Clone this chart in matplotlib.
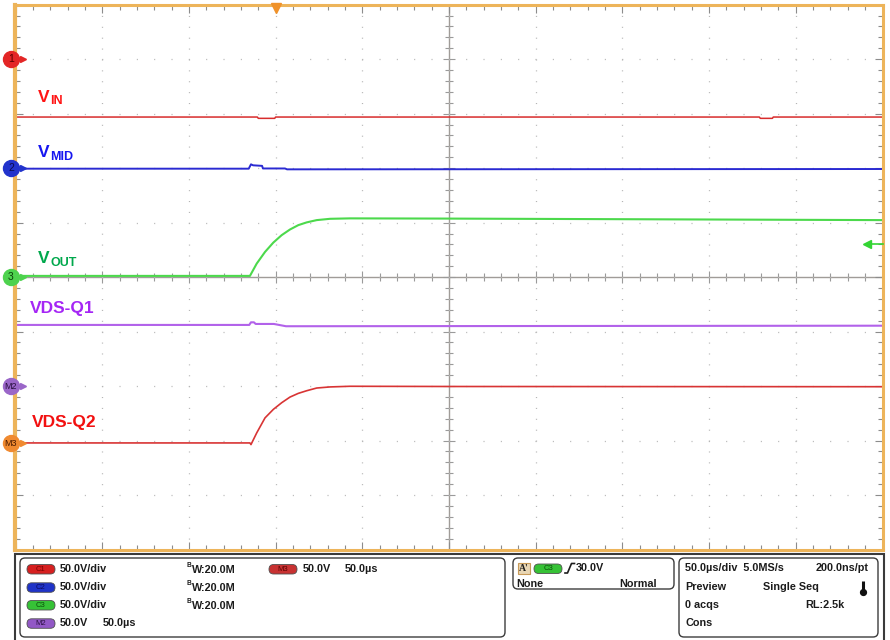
import numpy as np
import matplotlib
matplotlib.use("Agg")
import matplotlib.pyplot as plt
from matplotlib.ticker import MultipleLocator
from matplotlib.patches import FancyBboxPatch, Rectangle
from matplotlib.transforms import blended_transform_factory

plt.rcParams['font.family'] = ['Liberation Sans', 'DejaVu Sans']
plt.rcParams['lines.scale_dashes'] = False

# ---------------- data (time in µs, voltage in V) ----------------
VOLTS_PER_DIV = 50.0
US_PER_DIV = 50.0

vin_t = [-250, -110.5, -110, -100.5, -100, 179, 179.5, 186.5, 187, 250]
vin_v = [-53.1, -53.1, -54.3, -54.3, -53.1, -53.1, -54.3, -54.3, -53.1, -53.1]

vmid_t = [-250, -115.5, -114.2, -113.0, -107.8, -107.3, -94.6, -93.4, 250]
vmid_v = [-0.5, -0.5, 3.5, 2.6, 2.1, -0.3, -0.3, -1.1, -0.8]

vout_t = [-250, -114.8, -110.9, -106.1, -101.3, -96.5, -91.7, -86.9, -82.1, -76.3, -68.6, -57.1, 0, 250]
vout_v = [1.1, 1.1, 12.4, 23.1, 31.7, 38.5, 43.7, 47.7, 50.2, 52.3, 53.5, 53.9, 53.7, 52.3]

vdsq1_t = [-250, -115.2, -114.2, -112.5, -111.5, -101.0, -94.0, 250]
vdsq1_v = [56.1, 56.1, 58.5, 58.5, 57.0, 57.0, 54.9, 55.4]

vdsq2_t = [-250, -114.8, -114.2, -110.9, -106.1, -101.3, -96.5, -91.7, -86.9, -82.1, -76.3, -68.6, -57.1, 0, 250]
vdsq2_v = [0.3, 0.3, -1.2, 9.5, 23.3, 31.1, 37.2, 42.4, 45.8, 48.2, 50.7, 51.7, 52.3, 52.1, 51.9]

channel_names = ['1', '2', '3', 'M2', 'M3']
channel_offsets_div = [4.0, 2.0, 0.0, -2.0, -3.05]
trigger_time_us = -100.0
trigger_level_v = 30.0

trace_labels = ['IN', 'MID', 'OUT', 'VDS-Q1', 'VDS-Q2']

# ---------------- figure ----------------
W, H = 890, 640
fig = plt.figure(figsize=(W / 100, H / 100), dpi=100)
fig.patch.set_facecolor('white')
L, R, T, B = 15.5, 882.5, 4.7, 549.5
ax = fig.add_axes([L / W, 1 - B / H, (R - L) / W, (B - T) / H])
ax.set_xlim(-5 * US_PER_DIV, 5 * US_PER_DIV)
ax.set_ylim(-5, 5)
ax.set_facecolor('white')

ax.xaxis.set_major_locator(MultipleLocator(US_PER_DIV))
ax.xaxis.set_minor_locator(MultipleLocator(US_PER_DIV / 5))
ax.yaxis.set_major_locator(MultipleLocator(1))
ax.yaxis.set_minor_locator(MultipleLocator(0.2))
ax.tick_params(which='both', direction='in', top=True, right=True, bottom=True, left=True,
               labelbottom=False, labelleft=False, color='#8c8c8c', width=0.8)
ax.tick_params(which='major', length=6)
ax.tick_params(which='minor', length=3.5)

ax.xaxis.grid(True, which='major', color='#b4b4b4', linewidth=0.9, linestyle=(0, (0.75, 7.09)))
ax.yaxis.grid(True, which='major', color='#b4b4b4', linewidth=0.9, linestyle=(0, (0.75, 11.73)))

orange = '#EDB45A'
for name, sp in ax.spines.items():
    sp.set_color(orange)
    sp.set_linewidth(3.0 if name == 'left' else 2.2)
    sp.set_zorder(6)

# center crosshair
secx = ax.secondary_xaxis(0.5)
secx.xaxis.set_major_locator(MultipleLocator(US_PER_DIV))
secx.xaxis.set_minor_locator(MultipleLocator(US_PER_DIV / 5))
secx.tick_params(which='both', direction='inout', color='#9a9a9a', width=0.8,
                 labeltop=False, labelbottom=False)
secx.tick_params(which='major', length=9)
secx.tick_params(which='minor', length=6)
for sp in secx.spines.values():
    sp.set_color('#a09c98')
    sp.set_linewidth(1.0)
secy = ax.secondary_yaxis(0.5)
secy.yaxis.set_major_locator(MultipleLocator(1))
secy.yaxis.set_minor_locator(MultipleLocator(0.2))
secy.tick_params(which='both', direction='inout', color='#9a9a9a', width=0.8,
                 labelleft=False, labelright=False)
secy.tick_params(which='major', length=9)
secy.tick_params(which='minor', length=6)
for sp in secy.spines.values():
    sp.set_color('#a09c98')
    sp.set_linewidth(1.0)

# traces
traces = [
    (vin_t, vin_v, 0, '#d82c2c', 1.1),
    (vmid_t, vmid_v, 1, '#2a2ad2', 1.4),
    (vout_t, vout_v, 2, '#4cd94c', 1.5),
    (vdsq1_t, vdsq1_v, 3, '#b262ea', 1.5),
    (vdsq2_t, vdsq2_v, 4, '#d83434', 1.2),
]
for t, v, ci, col, lw in traces:
    ax.plot(t, channel_offsets_div[ci] + np.asarray(v) / VOLTS_PER_DIV,
            color=col, lw=lw, zorder=4, solid_joinstyle='round')

# channel ground markers
bt = blended_transform_factory(ax.transAxes, ax.transData)
mk_cols = ['#e32626', '#2233cc', '#4ed24e', '#9a66c8', '#f08a30']
mk_txt = ['#5a0000', '#0a0a50', '#0a400a', '#2a1040', '#4a1a00']
x_c = (11 - L) / (R - L)
x_a = (27 - L) / (R - L)
for name, off, fc, tc in zip(channel_names, channel_offsets_div, mk_cols, mk_txt):
    ax.plot([x_c, x_a - 0.004], [off, off], transform=bt, color=fc, lw=1.2, clip_on=False, zorder=7)
    ax.plot([x_a - 0.005], [off], transform=bt, marker='>', ms=5, color=fc, clip_on=False, zorder=7)
    ax.plot([x_c], [off], transform=bt, marker='o', ms=11.5, color=fc, mec=fc, clip_on=False, zorder=8)
    ax.text(x_c, off, name, transform=bt, ha='center', va='center',
            fontsize=7.5 if len(name) == 1 else 6.5,
            color=tc, zorder=9, clip_on=False)

# trigger position marker (top) and trigger level marker (right)
bt2 = blended_transform_factory(ax.transData, ax.transAxes)
ax.plot([trigger_time_us], [(B - 8) / (B - T)], transform=bt2, marker='v', ms=7,
        color='#f0922a', clip_on=False, zorder=9)
lvl = channel_offsets_div[2] + trigger_level_v / VOLTS_PER_DIV
x_tl = (867 - L) / (R - L)
ax.plot([x_tl, 1.0], [lvl, lvl], transform=bt, color='#33d433', lw=1.2, clip_on=False, zorder=7)
ax.plot([x_tl], [lvl], transform=bt, marker='<', ms=6, color='#33d433', clip_on=False, zorder=7)

# ---------------- overlay in pixel coordinates ----------------
ov = fig.add_axes([0, 0, 1, 1])
ov.set_xlim(0, W)
ov.set_ylim(H, 0)
ov.axis('off')
ov.patch.set_alpha(0)

# trace labels
lab_cols = ['#ff1414', '#1616f0', '#00a84c']
vy = [101.5, 157.3, 263.3]
for sub, col, yb in zip(trace_labels[:3], lab_cols, vy):
    ov.text(38, yb, 'V', color=col, fontsize=12.5, fontweight='bold', va='baseline', ha='left')
    ov.text(50.3, yb + 2.6, sub, color=col, fontsize=9, fontweight='bold', va='baseline', ha='left')
ov.text(30, 313, trace_labels[3], color='#a526f5', fontsize=12.5, fontweight='bold', va='baseline')
ov.text(31.7, 427, trace_labels[4], color='#f21010', fontsize=12.5, fontweight='bold', va='baseline')

# bottom status panel
ov.add_patch(Rectangle((15, 554), 869, 90, fc='white', ec='#3a3a3a', lw=1.5, zorder=1))
for (x0, y0, w, h) in [(20, 558, 485, 79), (513, 558, 161, 31), (679, 558, 199, 79)]:
    ov.add_patch(FancyBboxPatch((x0, y0), w, h, boxstyle='round,pad=0,rounding_size=5',
                                fc='white', ec='#3c3c3c', lw=1.0, zorder=2))

txt_kw = dict(fontsize=7.8, fontweight='bold', color='#1c1c1c', va='center', zorder=5)


def pill(x, y, label, fc, tc):
    ov.add_patch(FancyBboxPatch((x, y - 4.5), 28, 9.5, boxstyle='round,pad=0,rounding_size=4.7',
                                fc=fc, ec='#505050', lw=0.6, zorder=3))
    ov.text(x + 14, y + 0.3, label, ha='center', va='center', fontsize=5.5, color=tc, zorder=4)


rows = [569, 587.3, 605, 623.3]
pill(27, rows[0], 'C1', '#d62020', '#7a0000')
pill(27, rows[1], 'C2', '#1f33c8', '#0a0a60')
pill(27, rows[2], 'C3', '#36c236', '#0a500a')
pill(27, rows[3], 'M2', '#9258c6', '#2a1040')
pill(269, rows[0], 'M3', '#c83232', '#5a0000')
for r in rows[:3]:
    ov.text(59.3, r, '50.0V/div', **txt_kw)
    ov.text(186.3, r - 3.8, 'B', fontsize=4.8, fontweight='bold', color='#1c1c1c', va='center', zorder=5)
    ov.text(192.0, r + 0.8, 'W:20.0M', **txt_kw)
ov.text(59.3, rows[3], '50.0V', **txt_kw)
ov.text(102.7, rows[3], '50.0µs', **txt_kw)
ov.text(302.3, rows[0], '50.0V', **txt_kw)
ov.text(345, rows[0], '50.0µs', **txt_kw)

# trigger box
ov.add_patch(Rectangle((517.5, 563), 12.5, 10.5, fc='#e8d6b4', ec='#c89a58', lw=0.8, zorder=3))
ov.text(523.7, 568.5, "A'", ha='center', va='center', fontsize=7, fontweight='bold',
        family='Liberation Serif', color='#1c1c1c', zorder=5)
pill(534, 568.5, 'C3', '#36c236', '#0a500a')
ov.plot([565, 567.5, 571.5, 574.5], [573, 573, 563.5, 563.5], color='#1c1c1c', lw=1.2, zorder=5)
ov.text(575.5, 568.3, '30.0V', **txt_kw)
ov.text(516.5, 584, 'None', **txt_kw)
ov.text(656.7, 584, 'Normal', ha='right', **txt_kw)

# acquisition box
ov.text(685, 568.3, '50.0µs/div  5.0MS/s', **txt_kw)
ov.text(868.3, 568.3, '200.0ns/pt', ha='right', **txt_kw)
ov.text(685, 586.7, 'Preview', **txt_kw)
ov.text(763.3, 586.7, 'Single Seq', **txt_kw)
ov.plot([863, 863], [580.5, 590], color='#111111', lw=2.2, solid_capstyle='butt', zorder=5)
ov.plot([863], [592], marker='o', ms=4.2, color='#111111', zorder=5)
ov.text(685, 605, '0 acqs', **txt_kw)
ov.text(844.3, 605, 'RL:2.5k', ha='right', **txt_kw)
ov.text(685, 623.3, 'Cons', **txt_kw)

fig.savefig('out.png', dpi=100, facecolor='white')
